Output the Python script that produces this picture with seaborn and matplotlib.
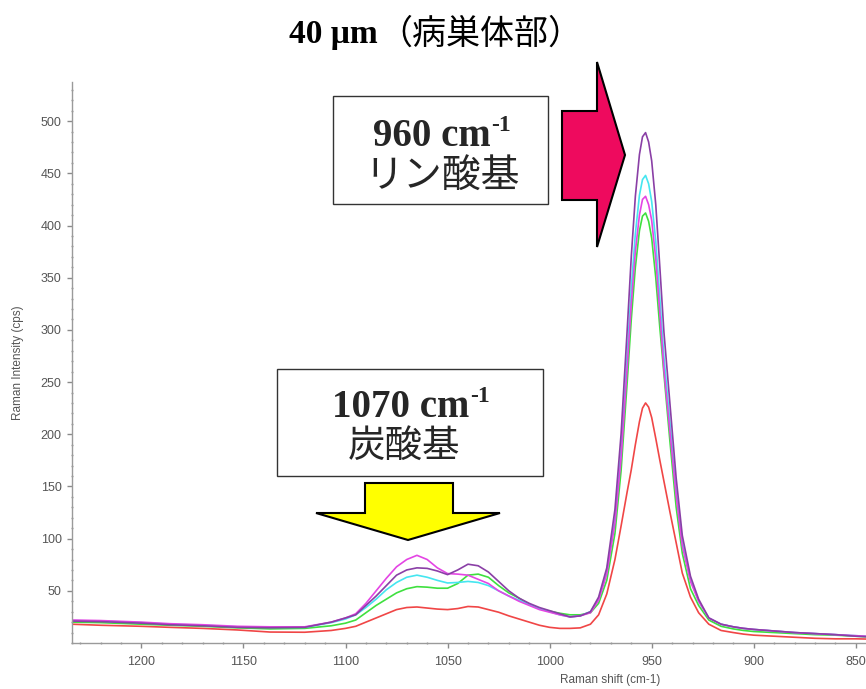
import matplotlib
matplotlib.use("Agg")
import matplotlib.pyplot as plt
import seaborn as sns
import pandas as pd
from matplotlib.patches import Polygon, Rectangle
from matplotlib.ticker import MultipleLocator, FixedLocator

# ---------------- data ----------------
shift = [1234, 1220, 1200, 1186, 1170, 1153, 1137, 1120, 1107, 1100,
         1095, 1090, 1085, 1080, 1075, 1070, 1065, 1060, 1055, 1050,
         1045, 1040, 1035, 1030, 1025, 1020, 1015, 1010, 1005, 1000,
         995, 990, 985, 980, 976, 972, 968, 965, 962, 960,
         958, 956, 954.5, 953, 951.5, 950, 948, 946, 944, 941,
         938, 935, 931, 927, 922, 916, 910, 905, 900, 890,
         880, 870, 860, 850, 845]

red = [18, 17, 16, 15, 14, 12.5, 10.5, 10.3, 12, 14,
       16, 20, 24, 28, 32, 34, 34.5, 33.5, 32.5, 32,
       33, 35, 34.5, 32, 29.5, 26, 23, 20, 17, 15,
       14, 14, 14.5, 18, 27, 47, 80, 112, 145, 166,
       190, 212, 225, 230, 226, 216, 196, 175, 155, 125,
       96, 67, 44, 29, 18, 12, 10, 8.5, 7.5, 6.5,
       5.5, 4.5, 4, 4, 3.8]

green = [20, 19.5, 18, 17, 16, 14.5, 13.5, 14, 16.5, 19,
         22, 29, 36, 42, 48, 52, 54, 53.5, 52.5, 52.5,
         57, 65, 66, 63, 55, 48, 43, 37, 33, 30.5,
         28.5, 27, 27, 29, 38, 60, 105, 165, 250, 310,
         360, 395, 409, 412, 404, 388, 350, 302, 258, 192,
         130, 86, 52, 36, 22, 16, 13.5, 12, 11, 10,
         9, 8, 7.5, 6.5, 6]

cyan = [21.5, 21, 19.5, 18, 17, 15.5, 15, 15, 19.5, 23,
        27, 34, 42, 51, 58, 63, 65, 63, 60, 57.5,
        58, 59, 58, 55, 50, 45, 41, 37, 33, 30,
        27, 25, 26, 30, 42, 69, 119, 184, 276, 340,
        392, 429, 444, 448, 440, 423, 385, 330, 274, 210,
        146, 97, 61, 40, 24, 18, 15.5, 14, 13, 11.5,
        10, 9, 8, 7, 6.5]

magenta = [22, 21.5, 20, 18.5, 17.5, 16, 15.5, 15.5, 20, 24,
           28, 38, 50, 62, 73, 80, 84, 80, 72, 66.5,
           66, 65, 61, 57, 50, 45, 40, 36, 32, 29.5,
           27, 25, 26, 29, 41, 66, 115, 177, 264, 325,
           375, 410, 425, 428, 420, 405, 368, 316, 262, 201,
           141, 93, 59, 40, 24, 18, 15.5, 14, 13, 11.5,
           10, 9, 8, 7, 6.5]

purple = [21, 20.5, 19, 17.5, 16.5, 15, 14.6, 15, 20, 24,
          27, 36, 45, 55, 65, 70, 72, 71.5, 69, 65.5,
          70, 75.5, 74, 68, 59, 50, 43, 38, 34, 31,
          28, 25, 26, 30, 44, 72, 128, 200, 300, 370,
          428, 468, 485, 489, 480, 462, 420, 360, 298, 228,
          158, 103, 64, 42, 24, 18, 15.5, 14, 13, 11.5,
          10, 9, 8, 6.5, 6]

spots = ["red", "green", "cyan", "magenta", "purple"]
colors = ["#f04646", "#3fe03f", "#45e6f0", "#e445e4", "#8a3fa6"]
y_ticks = [50, 100, 150, 200, 250, 300, 350, 400, 450, 500]
x_ticks = [1200, 1150, 1100, 1050, 1000, 950, 900, 850]

series = [red, green, cyan, magenta, purple]
df = pd.DataFrame({
    "shift": shift * len(series),
    "intensity": sum(series, []),
    "spot": [s for s in spots for _ in shift],
})

# ---------------- figure ----------------
sns.set_theme(style="white")
plt.rcParams["font.family"] = ["Liberation Sans", "DejaVu Sans"]

W, H = 866, 689
fig = plt.figure(figsize=(W / 100, H / 100), dpi=100)
fig.patch.set_facecolor("white")
renderer = fig.canvas.get_renderer()


def fx(px):
    return px / W


def fy(py):
    return 1 - py / H


ax = fig.add_axes([fx(72), 46 / H, 794 / W, 561 / H])
sns.lineplot(data=df, x="shift", y="intensity", hue="spot", hue_order=spots,
             palette=colors, estimator=None, legend=False, lw=1.2, ax=ax)

ax.set_xlim(1234, 845)
ax.set_ylim(0, 537.5)
ax.xaxis.set_major_locator(FixedLocator(x_ticks))
ax.xaxis.set_minor_locator(MultipleLocator(10))
ax.yaxis.set_major_locator(FixedLocator(y_ticks))
ax.yaxis.set_minor_locator(MultipleLocator(10))

for side in ["top", "right"]:
    ax.spines[side].set_visible(False)
for side in ["left", "bottom"]:
    ax.spines[side].set_color("#9a9a9a")
    ax.spines[side].set_linewidth(1.0)

ax.tick_params(which="major", length=3.5, width=1, color="#8a8a8a",
               labelcolor="#555555", labelsize=9, direction="out",
               left=True, bottom=True)
ax.tick_params(axis="x", which="major", pad=6)
ax.tick_params(axis="y", which="major", pad=4)
ax.tick_params(which="minor", length=2, width=1, color="#9a9a9a",
               direction="inout", left=True, bottom=True)

ax.set_xlabel("Raman shift (cm-1)", fontsize=8.5, color="#555555")
ax.set_ylabel("Raman Intensity (cps)", fontsize=8.5, color="#555555")
ax.xaxis.set_label_coords(0.678, -0.055)
ax.yaxis.set_label_coords(-0.060, 0.5)

# ---------------- title ----------------
fig.text(fx(378), fy(34), "40 μm", ha="right", va="center",
         family="Liberation Serif", weight="bold", fontsize=24, color="black")
fig.text(fx(378), fy(34), "（病巣体部）", ha="left", va="center",
         family=["Noto Sans CJK JP", "DejaVu Sans"], fontsize=24.5, color="black")

# ---------------- annotation boxes ----------------
box1 = Rectangle((fx(333), fy(204)), fx(548) - fx(333), fy(96) - fy(204),
                 transform=fig.transFigure, facecolor="white",
                 edgecolor="#333333", lw=1.0, zorder=5)
box2 = Rectangle((fx(277), fy(476)), fx(543) - fx(277), fy(369) - fy(476),
                 transform=fig.transFigure, facecolor="white",
                 edgecolor="#333333", lw=1.0, zorder=5)
fig.add_artist(box1)
fig.add_artist(box2)


def label_with_sup(cx, base_y, main, sup, size, sup_size, rise):
    t1 = fig.text(0, 0, main, ha="left", va="baseline", family="Liberation Serif",
                  weight="bold", fontsize=size, zorder=6)
    t2 = fig.text(0, 0, sup, ha="left", va="baseline", family="Liberation Serif",
                  weight="bold", fontsize=sup_size, zorder=6)
    w1 = t1.get_window_extent(renderer).width
    w2 = t2.get_window_extent(renderer).width
    gap = 1
    x0 = cx - (w1 + gap + w2) / 2
    t1.set_position((fx(x0), fy(base_y)))
    t2.set_position((fx(x0 + w1 + gap), fy(base_y - rise)))


label_with_sup(442, 146, "960 cm", "-1", 28, 17, 15)
fig.text(fx(442), fy(176), "リン酸基", ha="center", va="center",
         family=["Noto Sans CJK JP", "DejaVu Sans"], fontsize=28, zorder=6)
label_with_sup(411, 417, "1070 cm", "-1", 28, 17, 15)
fig.text(fx(404), fy(446), "炭酸基", ha="center", va="center",
         family=["Noto Sans CJK JP", "DejaVu Sans"], fontsize=27, zorder=6)

# ---------------- block arrows ----------------
pink_pts = [(562, 111), (597, 111), (597, 62), (625, 155),
            (597, 247), (597, 200), (562, 200)]
yellow_pts = [(365, 483), (453, 483), (453, 513), (500, 513),
              (408, 540), (316, 513), (365, 513)]
pink = Polygon([(fx(x), fy(y)) for x, y in pink_pts], closed=True,
               transform=fig.transFigure, facecolor="#ee0a5e",
               edgecolor="black", lw=1.5, zorder=5)
yellow = Polygon([(fx(x), fy(y)) for x, y in yellow_pts], closed=True,
                 transform=fig.transFigure, facecolor="#ffff00",
                 edgecolor="black", lw=1.5, zorder=5)
fig.add_artist(pink)
fig.add_artist(yellow)

fig.savefig("out.png", dpi=100, facecolor="white")
